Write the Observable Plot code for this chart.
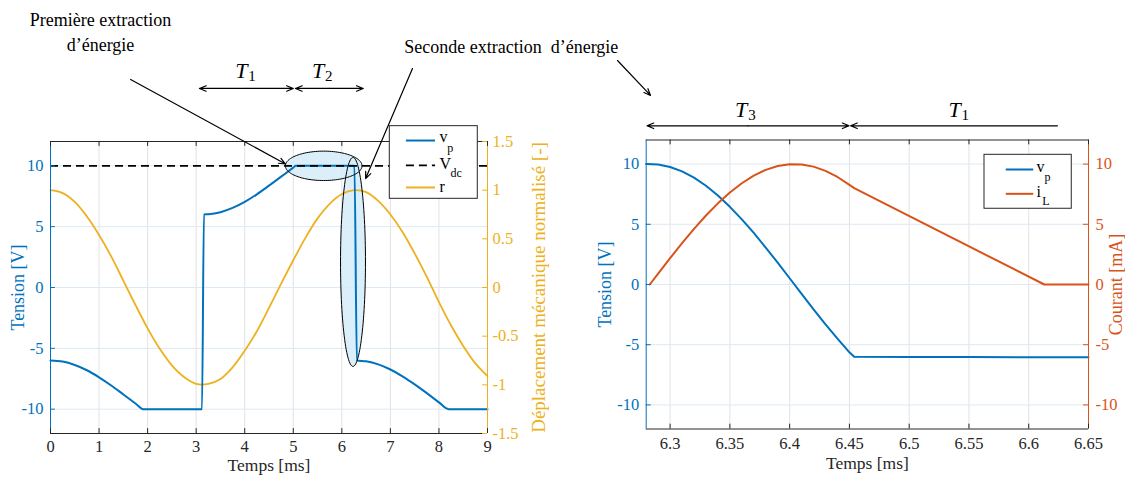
<!DOCTYPE html>
<html><head><meta charset="utf-8">
<script src="https://cdn.jsdelivr.net/npm/d3@7"></script>
<script src="https://cdn.jsdelivr.net/npm/@observablehq/plot@0.6"></script>
<style>
html,body{margin:0;padding:0;background:#fff;}
#wrap{position:relative;width:1125px;height:479px;overflow:hidden;background:#fff;}
#wrap svg{position:absolute;top:0;overflow:visible;font-family:'Liberation Serif','Times New Roman',serif;}
#wrap svg text{font-family:'Liberation Serif','Times New Roman',serif;}
</style></head><body><div id="wrap"></div>
<script>
const BLUE = "#0072BD", ORANGE = "#D95319", YELLOW = "#EDB120", DARK = "#262626";
const FONT = "Liberation Serif";

// ---------- Left panel data ----------
const rTime = [0,0.25,0.5,0.75,1,1.25,1.5,1.75,2,2.25,2.5,2.75,3,3.25,3.5,3.75,4,4.25,4.5,4.75,5,5.25,5.5,5.75,6,6.25,6.5,6.75,7,7.25,7.5,7.75,8,8.25,8.5,8.75,9];
const rValue = [1.00,0.97,0.88,0.73,0.54,0.32,0.07,-0.18,-0.42,-0.63,-0.80,-0.92,-0.99,-0.99,-0.94,-0.82,-0.65,-0.45,-0.21,0.04,0.28,0.51,0.71,0.86,0.96,1.00,0.98,0.89,0.75,0.57,0.35,0.11,-0.15,-0.39,-0.60,-0.78,-0.91];
const vpLeftTime = [0,0.25,0.5,0.75,1,1.25,1.5,1.75,1.91,3.12,3.16,3.25,3.5,3.75,4,4.25,4.5,4.75,5,5.05,6.26,6.31,6.5,6.75,7,7.25,7.5,7.75,8,8.2,9];
const vpLeftValue = [-6,-6.09,-6.37,-6.8,-7.38,-8.05,-8.79,-9.53,-10,-10,6,6.02,6.19,6.54,7.04,7.66,8.37,9.11,9.85,10,10,-6,-6.07,-6.32,-6.74,-7.3,-7.96,-8.68,-9.44,-10,-10];
const vdcValue = [10];
const leftXTicks = [0,1,2,3,4,5,6,7,8,9];
const leftYTicks = [-10,-5,0,5,10];
const rTicks = [-1.5,-1,-0.5,0,0.5,1,1.5];
const rToVolt = 8; // right axis 1.5 <-> left axis 12

// ---------- Right panel data ----------
const vpRightTime = [6.28,6.29,6.30,6.31,6.32,6.33,6.34,6.35,6.36,6.37,6.38,6.39,6.40,6.41,6.42,6.43,6.44,6.45,6.454,6.5,6.55,6.6,6.65];
const vpRightValue = [10,9.96,9.76,9.39,8.87,8.20,7.39,6.45,5.41,4.28,3.06,1.81,0.52,-0.77,-2.06,-3.31,-4.50,-5.63,-6.0,-6.02,-6.03,-6.04,-6.05];
const iLTime = [6.283,6.29,6.30,6.31,6.32,6.33,6.34,6.35,6.36,6.37,6.38,6.39,6.40,6.41,6.42,6.43,6.44,6.45,6.454,6.613,6.65];
const iLValue = [0,0.91,2.19,3.43,4.62,5.73,6.74,7.64,8.41,9.04,9.52,9.84,9.99,9.97,9.79,9.44,8.93,8.27,8.0,0,0];
const rightXTicks = [6.3,6.35,6.4,6.45,6.5,6.55,6.6,6.65];
const rightYTicks = [-10,-5,0,5,10];

// ---------- Annotations (data units of each panel) ----------
const leftEllipses = [{cx:5.627, cy:10.0, rx:0.789, ry:1.208},{cx:6.23, cy:2.10, rx:0.257, ry:8.59}];
const leftNotes = [
  {x:1.03, y:21.95, text:"Première extraction"},
  {x:1.03, y:19.9, text:"d’énergie"},
  {x:9.49, y:19.73, text:"Seconde extraction  d’énergie"}
];
const leftPointers = [{x1:1.65, y1:17.1, x2:4.84, y2:10.15},{x1:7.455, y1:18.0, x2:6.49, y2:8.95}];
const leftSpans = [{a:3.068, b:5.0, y:16.36, T:"1", tx:3.93, ty:17.8},{a:5.045, b:6.44, y:16.36, T:"2", tx:5.51, ty:17.8}];
const rightPointers = [{x1:6.256, y1:18.6, x2:6.2836, y2:15.7}];
const rightSpans = [{a:6.2807, b:6.4497, y:13.18, T:"3", tx:6.3595, ty:14.5, heads:2},{a:6.451, b:6.624, y:13.18, T:"1", tx:6.538, ty:14.5, heads:1}];

const txt = (data, o) => Plot.text(data, {fontFamily: FONT, ...o});

function ellipsePts(e, n = 120) {
  return d3.range(n + 1).map(i => { const a = 2 * Math.PI * i / n; return {x: e.cx + e.rx * Math.cos(a), y: e.cy + e.ry * Math.sin(a)}; });
}
function spanArrows(spans) {
  const out = [];
  for (const s of spans) {
    if (s.heads === 1) out.push({x1: s.b, x2: s.a, y: s.y});
    else { const m = (s.a + s.b) / 2; out.push({x1: m, x2: s.a, y: s.y}, {x1: m, x2: s.b, y: s.y}); }
  }
  return out;
}
function tLabels(spans, dxs, dys) {
  return [
    txt(spans, {x: "tx", y: "ty", text: () => "T", fontStyle: "italic", fontSize: 22, textAnchor: "middle", fill: "#000"}),
    txt(spans, {x: "tx", y: "ty", text: "T", fontSize: 15, textAnchor: "start", dx: dxs, dy: dys, fill: "#000"})
  ];
}

const rRows = rTime.map((t, i) => ({t, v: rValue[i] * rToVolt}));
const vpLRows = vpLeftTime.map((t, i) => ({t, v: vpLeftValue[i]}));
const vpRRows = vpRightTime.map((t, i) => ({t, v: vpRightValue[i]}));
const iLRows = iLTime.map((t, i) => ({t, v: iLValue[i]}));

const arrowStyle = {stroke: "#000", strokeWidth: 1.2, headLength: 9, headAngle: 45};

const left = Plot.plot({
  width: 560, height: 479,
  marginLeft: 50, marginRight: 73, marginTop: 141, marginBottom: 46,
  x: {domain: [0, 9], axis: null},
  y: {domain: [-12, 12], axis: null},
  style: {fontFamily: FONT, fontSize: "16px", background: "transparent", overflow: "visible"},
  marks: [
    Plot.ruleX(leftXTicks, {stroke: "#e2e2e2"}),
    Plot.ruleY(leftYTicks, {stroke: "#dde9f3"}),
    ...leftEllipses.map(e => Plot.line(ellipsePts(e), {x: "x", y: "y", fill: "#d4ecf9", fillOpacity: 0.85, stroke: "none"})),
    Plot.line(rRows, {x: "t", y: "v", stroke: YELLOW, strokeWidth: 1.8, curve: "catmull-rom"}),
    Plot.line(vpLRows, {x: "t", y: "v", stroke: BLUE, strokeWidth: 2, curve: "monotone-x"}),
    Plot.ruleY(vdcValue, {x1: 0, x2: 9, stroke: "#000", strokeWidth: 1.7, strokeDasharray: "8,5"}),
    ...leftEllipses.map(e => Plot.line(ellipsePts(e), {x: "x", y: "y", stroke: "#000", strokeWidth: 1})),
    // frame and axes
    Plot.ruleY([-12], {stroke: DARK}),
    Plot.ruleY([12], {stroke: DARK}),
    Plot.ruleX([0], {stroke: BLUE}),
    Plot.ruleX([9], {stroke: YELLOW}),
    Plot.ruleX(leftXTicks, {y1: -12, y2: -11.6, stroke: DARK}),
    Plot.ruleX(leftXTicks, {y1: 12, y2: 11.6, stroke: DARK}),
    Plot.ruleY(leftYTicks, {x1: 0, x2: 0.1, stroke: BLUE}),
    Plot.ruleY(rTicks.map(r => r * rToVolt), {x1: 9, x2: 8.9, stroke: YELLOW}),
    txt(leftXTicks, {x: d => d, text: d => String(d), frameAnchor: "bottom", dy: 18, fill: DARK, fontSize: 16.5}),
    txt(leftYTicks, {y: d => d, text: d => String(d), frameAnchor: "left", textAnchor: "end", dx: -7, fill: BLUE, fontSize: 16.5}),
    txt(rTicks, {y: d => d * rToVolt, text: d => String(d), frameAnchor: "right", textAnchor: "start", dx: 5, fill: YELLOW, fontSize: 16.5}),
    txt(["Temps [ms]"], {frameAnchor: "bottom", textAnchor: "middle", dy: 37.5, fill: DARK, fontSize: 17.5}),
    txt(["Tension [V]"], {frameAnchor: "left", textAnchor: "middle", rotate: -90, dx: -32, fill: BLUE, fontSize: 18}),
    txt(["Déplacement mécanique normalisé [-]"], {frameAnchor: "right", textAnchor: "middle", rotate: -90, dx: 51, fill: YELLOW, fontSize: 19}),
    // legend
    Plot.rect([{x1: 6.988, x2: 8.80, y1: 7.29, y2: 13.26}], {x1: "x1", x2: "x2", y1: "y1", y2: "y2", fill: "#fff", stroke: DARK, strokeWidth: 1}),
    Plot.ruleY([12.08], {x1: 7.33, x2: 7.93, stroke: BLUE, strokeWidth: 2}),
    Plot.ruleY([10.03], {x1: 7.33, x2: 7.93, stroke: "#000", strokeWidth: 1.7, strokeDasharray: "8,5"}),
    Plot.ruleY([8.22], {x1: 7.33, x2: 7.93, stroke: YELLOW, strokeWidth: 2}),
    txt([{x: 8.01, y: 12.4, s: "v"},{x: 8.17, y: 11.42, s: "p"},{x: 8.01, y: 10.15, s: "V"},{x: 8.24, y: 9.41, s: "dc"},{x: 8.01, y: 8.3, s: "r"}],
      {x: "x", y: "y", text: "s", textAnchor: "start", fontSize: d => (d.s === "p" || d.s === "dc") ? 12 : 16, fill: "#000"}),
    // annotations
    txt(leftNotes, {x: "x", y: "y", text: "text", textAnchor: "middle", fontSize: 18, fill: "#000"}),
    Plot.arrow(leftPointers, {x1: "x1", y1: "y1", x2: "x2", y2: "y2", ...arrowStyle}),
    Plot.arrow(spanArrows(leftSpans), {x1: "x1", x2: "x2", y1: "y", y2: "y", ...arrowStyle}),
    ...tLabels(leftSpans, 7, 5)
  ]
});

const right = Plot.plot({
  width: 565, height: 479,
  marginLeft: 85.7, marginRight: 37, marginTop: 139.5, marginBottom: 50.5,
  x: {domain: [6.28, 6.65], axis: null},
  y: {domain: [-12, 12], axis: null},
  style: {fontFamily: FONT, fontSize: "16px", background: "transparent", overflow: "visible"},
  marks: [
    Plot.ruleX(rightXTicks, {stroke: "#e2e2e2"}),
    Plot.ruleY(rightYTicks, {stroke: "#dde9f3"}),
    Plot.line(vpRRows, {x: "t", y: "v", stroke: BLUE, strokeWidth: 2}),
    Plot.line(iLRows, {x: "t", y: "v", stroke: ORANGE, strokeWidth: 2}),
    Plot.ruleY([-12], {stroke: DARK}),
    Plot.ruleY([12], {stroke: DARK}),
    Plot.ruleX([6.28], {stroke: BLUE}),
    Plot.ruleX([6.65], {stroke: ORANGE}),
    Plot.ruleX(rightXTicks, {y1: -12, y2: -11.6, stroke: DARK}),
    Plot.ruleX(rightXTicks, {y1: 12, y2: 11.6, stroke: DARK}),
    Plot.ruleY(rightYTicks, {x1: 6.28, x2: 6.2842, stroke: BLUE}),
    Plot.ruleY(rightYTicks, {x1: 6.65, x2: 6.6458, stroke: ORANGE}),
    txt(rightXTicks, {x: d => d, text: d => String(d), frameAnchor: "bottom", dy: 20, fill: DARK, fontSize: 16.5}),
    txt(rightYTicks, {y: d => d, text: d => String(d), frameAnchor: "left", textAnchor: "end", dx: -7, fill: BLUE, fontSize: 16.5}),
    txt(rightYTicks, {y: d => d, text: d => String(d), frameAnchor: "right", textAnchor: "start", dx: 7, fill: ORANGE, fontSize: 16.5}),
    txt(["Temps [ms]"], {frameAnchor: "bottom", textAnchor: "middle", dy: 40, fill: DARK, fontSize: 17.5}),
    txt(["Tension [V]"], {frameAnchor: "left", textAnchor: "middle", rotate: -90, dx: -41, fill: BLUE, fontSize: 18}),
    txt(["Courant [mA]"], {frameAnchor: "right", textAnchor: "middle", rotate: -90, dx: 28, fill: ORANGE, fontSize: 18}),
    // legend
    Plot.rect([{x1: 6.563, x2: 6.636, y1: 6.29, y2: 10.77}], {x1: "x1", x2: "x2", y1: "y1", y2: "y2", fill: "#fff", stroke: DARK, strokeWidth: 1}),
    Plot.ruleY([9.55], {x1: 6.5812, x2: 6.6042, stroke: BLUE, strokeWidth: 2}),
    Plot.ruleY([7.53], {x1: 6.5812, x2: 6.6042, stroke: ORANGE, strokeWidth: 2}),
    txt([{x: 6.6065, y: 9.8, s: "v"},{x: 6.6132, y: 8.89, s: "p"},{x: 6.6065, y: 7.7, s: "i"},{x: 6.6113, y: 6.89, s: "L"}],
      {x: "x", y: "y", text: "s", textAnchor: "start", fontSize: d => (d.s === "p" || d.s === "L") ? 12 : 16, fill: "#000"}),
    // annotations
    Plot.arrow(rightPointers, {x1: "x1", y1: "y1", x2: "x2", y2: "y2", ...arrowStyle}),
    Plot.arrow(spanArrows(rightSpans), {x1: "x1", x2: "x2", y1: "y", y2: "y", ...arrowStyle}),
    ...tLabels(rightSpans, 7, 5)
  ]
});

left.style.left = "0px";
right.style.left = "560px";
document.getElementById("wrap").append(left, right);
</script>
</body></html>
